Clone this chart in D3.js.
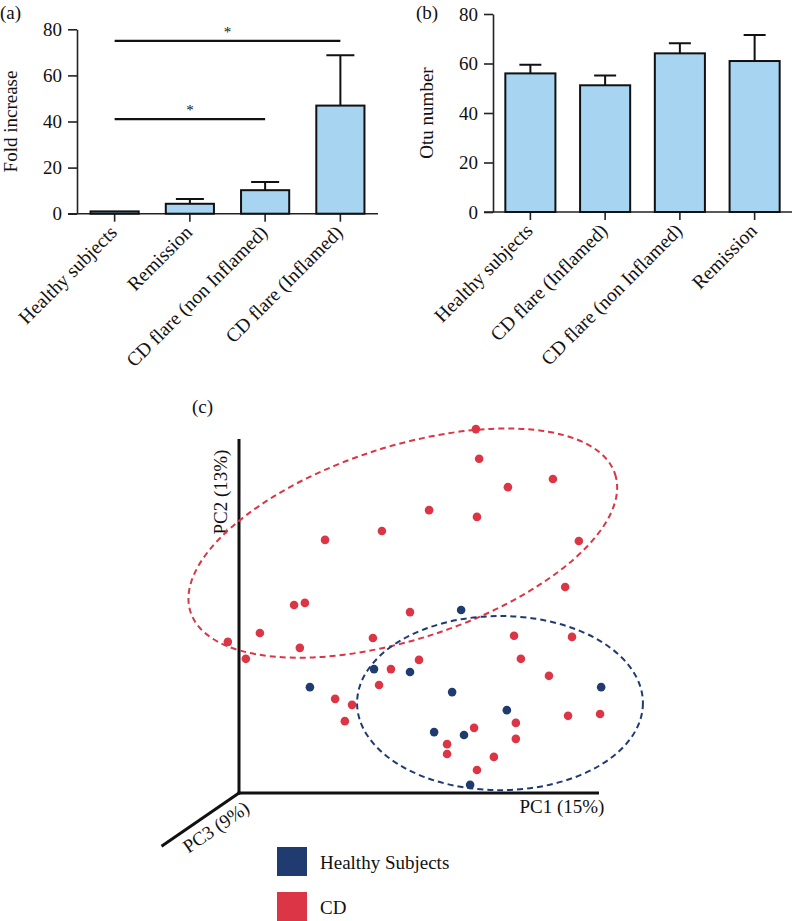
<!DOCTYPE html>
<html>
<head>
<meta charset="utf-8">
<script src="https://cdn.jsdelivr.net/npm/d3@7"></script>
<style>
  html, body { margin: 0; padding: 0; background: #fff; }
  svg { display: block; font-family: "Liberation Serif", "DejaVu Serif", serif; }
  text { fill: #111; }
</style>
</head>
<body>
<svg id="chart" width="794" height="921"></svg>
<script>
// ---------- Panel (a) data ----------
const aCategories = ["Healthy subjects", "Remission", "CD flare (non Inflamed)", "CD flare (Inflamed)"];
const aMeans = [1, 4.3, 10.2, 46.9];
const aSem = [0, 2.1, 3.6, 21.8];
const aTicks = [0, 20, 40, 60, 80];
const aSigFrom = [0, 0];
const aSigTo = [3, 2];
const aSigLevel = [75, 41];

// ---------- Panel (b) data ----------
const bCategories = ["Healthy subjects", "CD flare (Inflamed)", "CD flare (non Inflamed)", "Remission"];
const bMeans = [56.0, 51.2, 64.1, 61.0];
const bSem = [3.5, 4.0, 4.1, 10.5];
const bTicks = [0, 20, 40, 60, 80];

// ---------- Panel (c) data (PCoA scores, arbitrary units) ----------
const healthyPC1 = [61.7, 37.5, 47.5, 19.7, 100.6, 59.2, 74.4, 54.2, 62.5, 64.2];
const healthyPC2 = [51.7, 35.0, 34.2, 29.9, 29.9, 28.5, 23.4, 17.2, 16.4, 2.3];
const cdPC1 = [65.8, 66.7, 87.2, 74.7, 52.8, 66.1, 39.7, 94.4, 23.9, 90.6, 15.3, 18.3, 47.5,
  5.8, -3.1, 16.9, 1.9, 37.2, 76.4, 92.5, 50.0, 78.3, 42.2, 38.9, 86.1, 26.7, 31.4, 29.4,
  91.4, 100.3, 76.9, 65.3, 57.8, 76.9, 57.8, 70.8, 66.1];
const cdPC2 = [102.8, 94.4, 88.7, 86.4, 79.9, 78.0, 74.0, 71.2, 71.5, 58.2, 53.1, 53.7, 51.1,
  45.2, 42.7, 41.0, 37.9, 43.8, 44.4, 44.1, 37.6, 37.9, 35.0, 30.5, 33.1, 26.6, 24.9, 20.3,
  21.8, 22.3, 19.8, 18.4, 13.8, 15.3, 11.0, 10.2, 6.5];
// group ellipses: centre (PC1, PC2), radii, rotation (deg)
const ellipseGroups = ["CD", "Healthy Subjects"];
const ellipseCx = [45.5, 72.5];
const ellipseCy = [70.6, 25.4];
const ellipseRx = [62.0, 39.7];
const ellipseRy = [27.2, 24.6];
const ellipseAngle = [-18, 0];
const legendLabels = ["Healthy Subjects", "CD"];

const BLUE = "#1f3b70", RED = "#dc3545", BAR = "#a7d4f1";
const FS = 19;

const svg = d3.select("#chart");

function barPanel(opts) {
  const g = svg.append("g");
  const x = d3.scaleBand(opts.cats, opts.xr).padding(0);
  const y = d3.scaleLinear([0, 80], opts.yr);
  const bw = x.bandwidth() * opts.barFrac;
  const cx = c => x(c) + x.bandwidth() / 2;

  // y axis
  const ya = g.append("g").attr("transform", `translate(${opts.xr[0]},0)`)
    .call(d3.axisLeft(y).tickValues(opts.ticks).tickSize(9).tickSizeOuter(0).tickPadding(6));
  ya.select(".domain").attr("stroke", "#222").attr("stroke-width", 1.6);
  ya.selectAll(".tick line").attr("stroke", "#222").attr("stroke-width", 1.6);
  ya.selectAll(".tick text").attr("font-size", FS).attr("font-family", "Liberation Serif").attr("fill", "#111");

  // x axis
  const xa = g.append("g").attr("transform", `translate(0,${opts.yr[0]})`)
    .call(d3.axisBottom(x).tickSize(8).tickSizeOuter(0).tickFormat(""));
  xa.select(".domain").attr("stroke", "#222").attr("stroke-width", 1.6)
    .attr("d", `M${opts.xr[0] - 9},0H${opts.xr[1]}`);
  xa.selectAll(".tick line").attr("stroke", "#222").attr("stroke-width", 1.6);

  // error bars
  g.selectAll(".err").data(opts.cats).enter().append("path")
    .attr("fill", "none").attr("stroke", "#111").attr("stroke-width", 2)
    .attr("d", (c, i) => {
      if (opts.sem[i] <= 0) return null;
      const top = y(opts.means[i] + opts.sem[i]);
      return `M${cx(c)},${y(opts.means[i])}V${top}M${cx(c) - opts.cap / 2},${top}H${cx(c) + opts.cap / 2}`;
    });

  // bars
  g.selectAll(".bar").data(opts.cats).enter().append("rect")
    .attr("x", c => cx(c) - bw / 2)
    .attr("width", bw)
    .attr("y", (c, i) => y(opts.means[i]))
    .attr("height", (c, i) => y(0) - y(opts.means[i]))
    .attr("fill", BAR).attr("stroke", "#111").attr("stroke-width", 2);

  // category labels
  g.selectAll(".cl").data(opts.cats).enter().append("text")
    .attr("transform", c => `translate(${cx(c) + 3.5},${opts.yr[0] + 20}) rotate(-45)`)
    .attr("text-anchor", "end")
    .attr("font-size", FS + 0.5)
    .text(c => c);

  // y title
  g.append("text")
    .attr("transform", `translate(${opts.titleX},${(opts.yr[0] + opts.yr[1]) / 2}) rotate(-90)`)
    .attr("text-anchor", "middle").attr("font-size", FS)
    .text(opts.title);

  // panel label
  g.append("text").attr("x", opts.labX).attr("y", 19).attr("font-size", FS).text(opts.label);
  return { g, x, y, cx };
}

// ---------- Panel (a) ----------
const pa = barPanel({
  cats: aCategories, means: aMeans, sem: aSem, ticks: aTicks,
  xr: [77, 378], yr: [213.7, 29.3], barFrac: 0.64, cap: 28,
  title: "Fold increase", titleX: 17, label: "(a)", labX: 0
});
// significance brackets
aSigLevel.forEach((lev, i) => {
  const x1 = pa.cx(aCategories[aSigFrom[i]]), x2 = pa.cx(aCategories[aSigTo[i]]);
  const yy = pa.y(lev);
  pa.g.append("line").attr("x1", x1).attr("x2", x2).attr("y1", yy).attr("y2", yy)
    .attr("stroke", "#111").attr("stroke-width", 2.2);
  pa.g.append("text").attr("x", (x1 + x2) / 2).attr("y", yy - 4)
    .attr("text-anchor", "middle").attr("font-size", 15).text("*");
});

// ---------- Panel (b) ----------
barPanel({
  cats: bCategories, means: bMeans, sem: bSem, ticks: bTicks,
  xr: [493, 792], yr: [212, 14], barFrac: 0.67, cap: 22,
  title: "Otu number", titleX: 433, label: "(b)", labX: 416
});

// ---------- Panel (c) ----------
const sx = d3.scaleLinear([0, 100], [239, 599]);
const sy = d3.scaleLinear([0, 100], [793, 439]);
const gc = svg.append("g");

gc.append("text").attr("x", 192).attr("y", 413).attr("font-size", FS).text("(c)");

// axes (3D-like)
const ox = sx(0), oy = sy(0);
gc.append("line").attr("x1", ox).attr("x2", ox).attr("y1", sy(100)).attr("y2", oy + 1.5)
  .attr("stroke", "#111").attr("stroke-width", 3);
gc.append("line").attr("x1", ox - 1.5).attr("x2", sx(100)).attr("y1", oy).attr("y2", oy)
  .attr("stroke", "#111").attr("stroke-width", 3);
const pc3Len = 94, pc3Ang = 145.5 * Math.PI / 180;
gc.append("line").attr("x1", ox).attr("y1", oy)
  .attr("x2", ox + pc3Len * Math.cos(pc3Ang)).attr("y2", oy + pc3Len * Math.sin(pc3Ang))
  .attr("stroke", "#111").attr("stroke-width", 3);

gc.append("text").attr("transform", `translate(${ox - 12},${sy(85)}) rotate(-90)`)
  .attr("text-anchor", "middle").attr("font-size", FS).text("PC2 (13%)");
gc.append("text").attr("x", sx(101.5)).attr("y", oy + 20)
  .attr("text-anchor", "end").attr("font-size", FS).text("PC1 (15%)");
gc.append("text").attr("transform", `translate(${ox - 23},${oy + 34}) rotate(-34.5)`)
  .attr("text-anchor", "middle").attr("dominant-baseline", "central")
  .attr("font-size", FS).text("PC3 (9%)");

// ellipses
const eColors = [RED, BLUE];
ellipseGroups.forEach((grp, i) => {
  gc.append("ellipse")
    .attr("transform", `translate(${sx(ellipseCx[i])},${sy(ellipseCy[i])}) rotate(${ellipseAngle[i]})`)
    .attr("rx", sx(ellipseRx[i]) - sx(0))
    .attr("ry", sy(0) - sy(ellipseRy[i]))
    .attr("fill", "none").attr("stroke", eColors[i]).attr("stroke-width", 2)
    .attr("stroke-dasharray", "6,4");
});

// points
gc.selectAll(".cd").data(cdPC1).enter().append("circle")
  .attr("cx", d => sx(d)).attr("cy", (d, i) => sy(cdPC2[i])).attr("r", 4.3)
  .attr("fill", RED);
gc.selectAll(".hs").data(healthyPC1).enter().append("circle")
  .attr("cx", d => sx(d)).attr("cy", (d, i) => sy(healthyPC2[i])).attr("r", 4.3)
  .attr("fill", BLUE);

// legend
const legColors = [BLUE, RED];
legendLabels.forEach((lab, i) => {
  gc.append("rect").attr("x", 277).attr("y", 847 + i * 45).attr("width", 30).attr("height", 29)
    .attr("fill", legColors[i]);
  gc.append("text").attr("x", 320).attr("y", 869 + i * 45).attr("font-size", FS).text(lab);
});
</script>
</body>
</html>
